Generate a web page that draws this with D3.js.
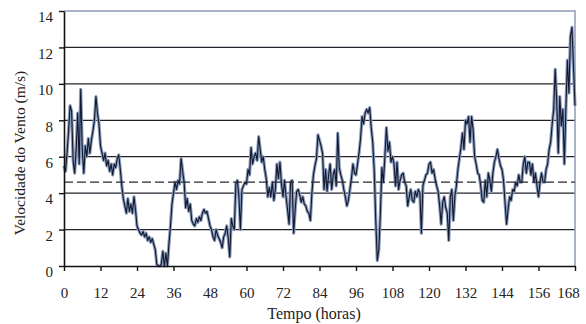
<!DOCTYPE html>
<html>
<head>
<meta charset="utf-8">
<script src="https://cdn.jsdelivr.net/npm/d3@7"></script>
<style>
  body { margin: 0; background: #fff; }
</style>
</head>
<body>
<div id="chart"></div>
<script>
// wind speed (m/s), one reading every half hour, one array per day
var day1 = [5.5, 5.2, 6.2, 7.4, 8.8, 8.5, 5.8, 5.1, 6.4, 8.4, 5.6, 9.7, 6.4, 5.1, 6.6, 6.0,
            7.0, 6.2, 6.9, 7.4, 8.0, 9.3, 8.4, 7.8, 6.6, 6.2, 5.8, 6.2, 5.5, 5.8, 5.2, 5.6,
            5.0, 5.6, 5.4, 5.9, 6.1, 5.3, 4.4, 3.7, 3.3, 2.9, 3.7, 3.0, 3.4, 2.9, 3.8, 3.1];
var day2 = [2.2, 2.0, 1.8, 1.7, 1.9, 1.6, 1.8, 1.4, 1.6, 1.3, 1.5, 1.2, 0.9, 0.1, 0.0, 0.0,
            0.1, 0.8, 0.0, 0.7, 0.0, 1.2, 2.2, 3.4, 4.0, 4.6, 4.2, 4.7, 4.5, 5.9, 5.2, 4.6,
            3.2, 3.7, 3.0, 3.4, 2.5, 2.3, 2.2, 2.6, 2.4, 2.7, 2.5, 2.9, 3.1, 2.9, 3.0, 2.6];
var day3 = [2.2, 2.0, 1.6, 1.4, 2.0, 1.7, 1.5, 1.3, 1.0, 1.6, 1.8, 2.2, 1.5, 0.5, 2.6, 2.2,
            2.0, 4.5, 4.7, 3.8, 2.0, 4.2, 4.4, 4.6, 4.5, 5.3, 5.0, 6.5, 5.6, 6.0, 6.2, 5.8,
            7.1, 6.4, 5.7, 6.0, 5.3, 4.8, 3.8, 4.3, 3.8, 4.6, 3.6, 4.2, 5.6, 4.8, 5.7, 4.5];
var day4 = [3.8, 4.7, 3.8, 3.1, 2.3, 4.6, 4.7, 1.8, 3.1, 4.1, 4.2, 3.9, 3.5, 3.8, 3.4, 3.3,
            3.0, 2.9, 2.5, 4.0, 5.0, 5.5, 5.9, 7.2, 6.9, 6.6, 6.2, 4.2, 5.3, 4.1, 5.0, 5.6,
            4.2, 5.0, 5.3, 4.4, 7.3, 5.4, 5.0, 4.7, 4.2, 3.8, 3.3, 3.6, 4.2, 4.8, 5.6, 5.1];
var day5 = [5.0, 5.6, 6.2, 7.0, 8.2, 7.8, 8.4, 8.6, 8.4, 8.7, 7.6, 6.8, 5.2, 2.5, 0.3, 0.9,
            2.8, 5.4, 4.6, 6.0, 7.6, 6.3, 6.8, 5.7, 6.0, 5.6, 4.4, 5.7, 4.2, 4.7, 5.0, 5.1,
            4.6, 4.4, 3.3, 3.8, 4.2, 3.6, 3.5, 4.1, 3.8, 4.2, 4.0, 1.8, 4.4, 4.7, 5.0, 5.1];
var day6 = [5.6, 5.7, 5.1, 5.3, 4.8, 4.4, 4.1, 3.3, 2.3, 3.5, 3.8, 3.2, 2.9, 1.4, 3.8, 4.2,
            2.5, 3.8, 4.4, 5.3, 5.9, 6.5, 7.3, 6.4, 8.0, 7.8, 8.2, 6.8, 8.2, 7.5, 6.0, 5.6,
            5.1, 5.0, 4.4, 3.6, 3.5, 4.7, 3.8, 5.1, 4.7, 4.1, 5.1, 5.7, 6.0, 6.4, 5.9, 5.5];
var day7 = [5.3, 4.7, 3.5, 2.3, 3.1, 3.8, 3.6, 4.2, 4.1, 4.6, 4.4, 5.0, 4.6, 4.6, 5.6, 6.0,
            5.1, 5.7, 5.7, 5.0, 5.6, 4.6, 5.1, 4.4, 3.8, 4.6, 5.1, 4.6, 4.6, 5.3, 5.6, 6.4,
            6.8, 7.8, 8.6, 10.8, 9.0, 6.2, 9.3, 7.7, 8.6, 5.6, 8.6, 11.3, 9.5, 12.6, 13.1, 11.0,
            8.8];
var hourTicks = [0, 12, 24, 36, 48, 60, 72, 84, 96, 108, 120, 132, 144, 156, 168];
var speedTicks = [0, 2, 4, 6, 8, 10, 12, 14];
var meanSpeed = 4.6;
var stepHours = 0.5;

var serif = '"Liberation Serif", "DejaVu Serif", serif';

var speeds = day1.concat(day2, day3, day4, day5, day6, day7);
var series = speeds.map(function (v, i) { return { hour: i * stepHours, value: v }; });

var margin = { top: 11, right: 11, bottom: 58, left: 64 },
   width = 586 - margin.left - margin.right,
   height = 324 - margin.top - margin.bottom;

var svg = d3.select('#chart')
   .append('svg')
   .attr('width', width + margin.left + margin.right)
   .attr('height', height + margin.top + margin.bottom)
   .append('g')
   .attr('transform', 'translate(' + margin.left + ',' + margin.top + ')');

var x = d3.scaleLinear().domain([0, 168]).range([0, width]);
var y = d3.scaleLinear().domain([0, 14]).range([height, 0]);

// horizontal grid lines
svg.append('g')
   .selectAll('line')
   .data(speedTicks.filter(function (d) { return d > 0 && d < 14; }))
   .enter()
   .append('line')
   .attr('x1', 0)
   .attr('x2', width)
   .attr('y1', function (d) { return y(d); })
   .attr('y2', function (d) { return y(d); })
   .attr('stroke', '#22222c')
   .attr('stroke-width', 1.3);

// light frame on top and right
svg.append('path')
   .attr('d', 'M0,' + y(14) + 'H' + x(168) + 'V' + y(0))
   .attr('fill', 'none')
   .attr('stroke', '#8e9cb6')
   .attr('stroke-width', 1.5);

var line = d3.line()
   .x(function (d) { return x(d.hour); })
   .y(function (d) { return y(d.value); });

// soft halo under the series
svg.append('path')
   .datum(series)
   .attr('fill', 'none')
   .attr('stroke', '#8a9bba')
   .attr('stroke-width', 3.2)
   .attr('stroke-linejoin', 'round')
   .attr('d', line);

svg.append('path')
   .datum(series)
   .attr('fill', 'none')
   .attr('stroke', '#111830')
   .attr('stroke-width', 1.1)
   .attr('stroke-linejoin', 'round')
   .attr('d', line);

// mean line
svg.append('line')
   .attr('x1', 0)
   .attr('x2', width)
   .attr('y1', y(meanSpeed))
   .attr('y2', y(meanSpeed))
   .attr('stroke', '#2a2a30')
   .attr('stroke-width', 1.3)
   .attr('stroke-dasharray', '9,4');

// axes
var xAxis = svg.append('g')
   .attr('transform', 'translate(0,' + height + ')')
   .call(d3.axisBottom(x).tickValues(hourTicks).tickSize(5).tickSizeOuter(0).tickPadding(16));

var yAxis = svg.append('g')
   .call(d3.axisLeft(y).tickValues(speedTicks).tickSize(5).tickSizeOuter(0).tickPadding(6));

[xAxis, yAxis].forEach(function (a) {
   a.attr('font-family', serif).attr('font-size', 15);
   a.select('.domain').attr('stroke', '#111').attr('stroke-width', 1.6);
   a.selectAll('.tick line').attr('stroke', '#111').attr('stroke-width', 1.4);
   a.selectAll('text').attr('fill', '#222');
});

yAxis.selectAll('.tick text').attr('transform', 'translate(0,6)');
xAxis.selectAll('.tick text')
   .filter(function (d) { return d === 168; })
   .attr('dx', -7);

// axis titles
svg.append('text')
   .attr('x', 250)
   .attr('y', height + 53)
   .attr('text-anchor', 'middle')
   .attr('fill', '#222')
   .attr('font-family', serif)
   .attr('font-size', 16)
   .text('Tempo (horas)');

svg.append('text')
   .attr('transform', 'translate(' + (25 - margin.left) + ',' + (153 - margin.top) + ') rotate(-90)')
   .attr('text-anchor', 'middle')
   .attr('fill', '#222')
   .attr('font-family', serif)
   .attr('font-size', 15.5)
   .text('Velocidade do Vento (m/s)');
</script>
</body>
</html>
